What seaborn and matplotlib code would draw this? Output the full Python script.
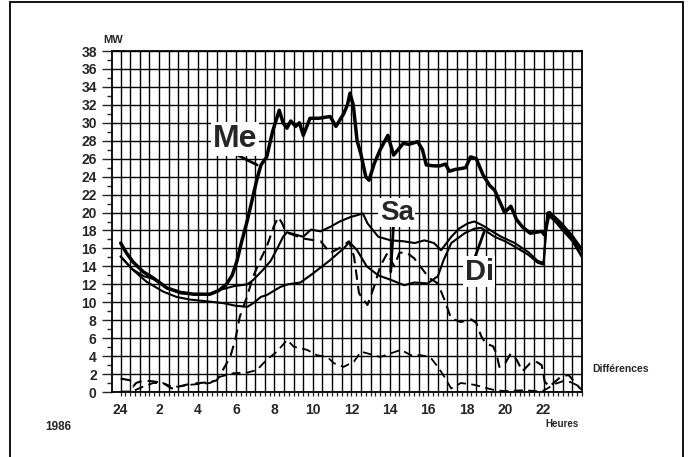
import matplotlib
matplotlib.use("Agg")
import numpy as np
import matplotlib.pyplot as plt
import matplotlib.patches as patches
import seaborn as sns

# --- données (heures, MW) ---
me_h = [0.0, 0.3, 0.64, 1.17, 1.7, 2.4, 3.1, 3.8, 4.65, 5.1, 5.5, 5.8, 6.05, 6.3, 6.6,
        6.85, 7.1, 7.3, 7.6, 7.9, 8.25, 8.45, 8.65, 8.85, 9.1, 9.3, 9.5, 9.85, 10.3,
        10.9, 11.2, 11.6, 11.8, 11.93, 12.1, 12.3, 12.5, 12.75, 12.92, 13.2, 13.5, 13.9,
        14.2, 14.7, 15.0, 15.45, 15.7, 15.9, 16.3, 16.6, 16.9, 17.1, 17.4, 17.7, 17.95,
        18.2, 18.5, 18.85, 19.2, 19.45, 19.6, 19.97, 20.3, 20.6, 20.9, 21.3, 21.6, 21.9,
        22.05, 22.3, 22.9, 23.5, 24.0]
me_mw = [16.6, 15.5, 14.5, 13.4, 12.7, 11.6, 11.1, 10.9, 10.9, 11.3, 12.0, 13.0, 14.6,
         16.8, 19.2, 21.5, 23.8, 25.3, 26.2, 29.0, 31.4, 30.0, 29.4, 30.2, 29.6, 30.0,
         28.6, 30.5, 30.5, 30.7, 29.6, 31.0, 32.0, 33.3, 32.0, 28.0, 26.5, 24.0, 23.6,
         25.5, 27.0, 28.6, 26.4, 27.7, 27.6, 27.9, 27.0, 25.3, 25.2, 25.2, 25.4, 24.6,
         24.8, 24.9, 25.0, 26.2, 26.0, 24.2, 23.0, 22.5, 21.8, 20.0, 20.7, 19.2, 18.4,
         17.7, 17.8, 17.9, 17.5, 20.0, 18.8, 17.3, 15.8]

di_h = [0.0, 0.6, 1.2, 1.7, 2.4, 3.1, 3.8, 4.6, 5.2, 5.9, 6.6, 6.9, 7.4, 7.8, 8.15, 8.45,
        8.65, 9.0, 9.5, 9.9, 10.4, 10.9, 11.4, 11.96, 12.3, 12.6, 12.84, 13.4, 14.05,
        14.7, 15.3, 15.8, 16.3, 16.67, 17.2, 17.6, 18.06, 18.4, 18.8, 19.4, 19.8, 20.5,
        21.2, 21.7, 22.0, 22.2, 22.5, 22.9, 23.5, 24.0]
di_mw = [15.1, 13.7, 12.9, 12.6, 11.6, 11.0, 10.9, 10.9, 11.4, 11.8, 12.0, 12.5, 13.6,
         14.6, 16.0, 17.3, 17.8, 17.6, 17.3, 18.1, 17.9, 18.4, 19.0, 19.5, 19.7, 19.9,
         18.8, 17.3, 16.9, 16.8, 16.6, 16.9, 16.6, 15.8, 17.3, 18.2, 18.8, 19.0, 18.6,
         17.8, 17.3, 16.6, 15.6, 14.6, 14.4, 20.0, 19.6, 18.5, 17.0, 15.1]

sa_h = [0.0, 0.64, 1.34, 2.2, 2.9, 3.6, 4.5, 5.35, 6.0, 6.6, 6.9, 7.3, 7.6, 8.3, 8.7,
        9.35, 10.0, 10.9, 11.6, 11.9, 12.3, 12.8, 13.4, 14.05, 14.75, 15.27, 15.97, 16.5,
        16.8, 17.2, 17.9, 18.4, 18.75, 19.45, 20.0, 20.5, 21.2, 21.7, 22.0, 22.2, 22.6,
        23.0, 23.5, 24.0]
sa_mw = [15.1, 13.6, 12.3, 11.2, 10.6, 10.3, 10.1, 9.9, 9.6, 9.5, 9.9, 10.6, 10.8, 11.7,
         12.0, 12.2, 13.2, 14.7, 16.0, 16.7, 15.8, 14.0, 13.0, 12.5, 11.9, 12.2, 12.1,
         12.9, 14.7, 16.6, 17.7, 18.2, 18.3, 17.3, 16.8, 16.2, 15.3, 14.4, 14.2, 19.8,
         19.0, 18.0, 16.8, 15.0]

# différences (tiretés)
diff1_h = [0.0, 0.5, 0.65, 0.8, 1.2, 1.8, 2.2, 2.65, 3.0, 3.6, 4.1, 4.65, 5.0, 5.33, 5.7,
           5.96, 6.2, 6.57, 6.9, 7.26, 7.6, 7.96, 8.2, 8.4, 8.6, 9.0, 9.5, 10.4, 10.9,
           11.35, 11.88, 12.14, 12.4, 12.84, 13.18, 13.5, 13.88, 14.23, 14.5, 14.84,
           15.27, 15.8, 16.06, 16.5, 16.84, 17.19, 17.7, 18.23, 18.5, 18.76, 19.0, 19.37,
           19.55, 19.7, 20.0, 20.3, 20.6, 20.9, 21.3, 21.6, 21.9, 22.06, 22.3, 22.9, 23.3,
           23.6, 23.9, 24.0]
diff1_mw = [1.5, 1.3, 0.6, 1.0, 1.3, 1.15, 1.0, 0.4, 0.6, 0.9, 1.0, 1.1, 1.3, 2.5, 3.9,
            5.8, 8.4, 10.6, 12.9, 14.7, 16.2, 18.4, 19.5, 18.8, 17.8, 17.5, 17.1, 16.8,
            15.5, 16.0, 16.8, 15.1, 11.0, 9.7, 11.7, 14.0, 15.5, 14.0, 15.5, 15.6, 14.9,
            13.4, 12.7, 12.1, 10.3, 8.2, 7.8, 8.1, 7.7, 6.2, 5.4, 5.1, 4.3, 2.8, 3.2, 4.3,
            3.6, 2.3, 3.2, 3.4, 3.0, 1.15, 0.6, 1.7, 1.9, 1.15, 0.4, 0.3]

diff2_h = [0.0, 0.5, 0.75, 1.17, 1.7, 2.2, 2.65, 3.0, 3.6, 4.1, 4.65, 5.17, 5.87, 6.57,
           7.09, 7.6, 8.13, 8.66, 9.0, 9.7, 10.2, 10.75, 11.1, 11.6, 12.14, 12.5, 12.84,
           13.5, 14.05, 14.58, 15.1, 15.6, 16.1, 16.5, 16.84, 17.19, 17.7, 18.4, 18.76,
           19.45, 20.0, 21.0, 21.9, 22.2, 22.6, 23.0, 23.4, 23.7, 24.0]
diff2_mw = [0.05, 0.05, 0.2, 0.6, 1.0, 1.0, 0.6, 0.6, 0.8, 0.9, 1.0, 1.7, 2.1, 2.15, 2.45,
            3.6, 4.5, 5.8, 5.05, 4.7, 4.1, 3.9, 3.2, 2.8, 3.4, 4.5, 4.3, 3.9, 4.3, 4.7,
            4.1, 4.1, 3.9, 2.8, 1.7, 0.4, 1.0, 0.8, 0.6, 0.2, 0.1, 0.2, 0.05, 0.4, 0.9,
            1.2, 1.1, 0.8, 0.5]

y_ticks = list(range(0, 39, 2))
x_ticks = list(range(0, 24, 2))
x_labels = ["24"] + [str(h) for h in range(2, 24, 2)]

# =====================================================================
sns.set_style("white")
plt.rcParams['font.family'] = ['Liberation Sans', 'DejaVu Sans']

fig = plt.figure(figsize=(6.88, 4.57), dpi=100)
fig.patch.set_facecolor('white')
ax = fig.add_axes([112 / 688, 65 / 457, 470 / 688, 341 / 457])

# quadrillage
ax.vlines(np.arange(0, 24.01, 0.5), 0, 38, colors='black', linewidth=1.0, zorder=1)
ax.hlines(np.arange(0, 38.01, 2), -0.45, 24, colors='black', linewidth=1.0, zorder=1)

sns.lineplot(x=me_h, y=me_mw, color='black', linewidth=2.5, ax=ax, zorder=5)
sns.lineplot(x=di_h, y=di_mw, color='black', linewidth=1.5, ax=ax, zorder=4)
sns.lineplot(x=sa_h, y=sa_mw, color='black', linewidth=1.5, ax=ax, zorder=4)
sns.lineplot(x=diff1_h, y=diff1_mw, color='black', linewidth=1.5,
             linestyle=(0, (5, 3)), ax=ax, zorder=4)
sns.lineplot(x=diff2_h, y=diff2_mw, color='black', linewidth=1.3,
             linestyle=(0, (5, 3)), ax=ax, zorder=4)

ax.set_xlim(-0.45, 24)
ax.set_ylim(0, 38)

ax.set_yticks(y_ticks)
ax.set_yticklabels([str(v) for v in y_ticks], fontsize=10, fontweight='bold')
ax.set_yticks(np.arange(1, 38, 2), minor=True)
ax.tick_params(axis='y', which='major', direction='out', length=7, width=1, pad=4, left=True)
ax.tick_params(axis='y', which='minor', direction='out', length=3.5, width=1, left=True)

ax.set_xticks(x_ticks)
ax.set_xticklabels(x_labels, fontsize=10, fontweight='bold')
ax.set_xticks(np.arange(0, 24.01, 0.25), minor=True)
ax.tick_params(axis='x', which='both', direction='out', length=3, width=0.9, pad=5, bottom=True)

for s in ax.spines.values():
    s.set_color('black')
    s.set_linewidth(1.3)
ax.set_xlabel('')
ax.set_ylabel('')

# étiquettes des courbes
box = dict(boxstyle='square,pad=0.05', fc='white', ec='none')
ax.annotate('Me', xy=(7.1, 25.3), xytext=(5.96, 28.2), fontsize=23, fontweight='bold',
            ha='center', va='center', bbox=box, zorder=8,
            arrowprops=dict(arrowstyle='-', lw=2.0, color='black', relpos=(0.5, 0),
                            shrinkA=0, shrinkB=0))
ax.annotate('Sa', xy=(14.05, 13.4), xytext=(14.37, 20.0), fontsize=20, fontweight='bold',
            ha='center', va='center', bbox=box, zorder=8,
            arrowprops=dict(arrowstyle='-', lw=2.0, color='black', relpos=(0.4, 0),
                            shrinkA=0, shrinkB=0))
ax.annotate('Di', xy=(18.9, 17.8), xytext=(18.65, 13.4), fontsize=21, fontweight='bold',
            ha='center', va='center', bbox=box, zorder=8,
            arrowprops=dict(arrowstyle='-', lw=2.0, color='black', relpos=(0.35, 1),
                            shrinkA=0, shrinkB=0))

# textes annexes
fig.text(103 / 688, 1 - 40 / 457, 'MW', fontsize=8, fontweight='bold', va='center')
fig.text(592 / 688, 1 - 369 / 457, 'Différences', fontsize=7.5, fontweight='bold', va='center')
fig.text(579 / 688, 1 - 424 / 457, 'Heures', fontsize=7, fontweight='bold', va='center', ha='right')
fig.text(45 / 688, 1 - 427 / 457, '1986', fontsize=8.5, fontweight='bold', va='center')

# cadre
fig.add_artist(patches.Rectangle((10 / 688, -0.02), 673 / 688, 1 - 2 / 457 + 0.02,
                                 transform=fig.transFigure, fill=False,
                                 edgecolor='black', linewidth=1.3))

fig.savefig('out.png', dpi=100)
